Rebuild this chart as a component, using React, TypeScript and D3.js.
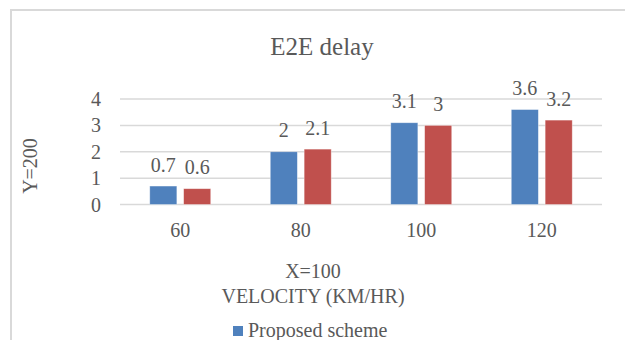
import React from "react";
import * as d3 from "d3";

const categories = ["60", "80", "100", "120"];
const seriesNames = ["Proposed scheme", "Existing scheme"];
const proposed = [0.7, 2, 3.1, 3.6];
const existing = [0.6, 2.1, 3, 3.2];
const yTicks = [0, 1, 2, 3, 4];
const colors = ["#4f81bd", "#c0504d"];

const W = 625;
const H = 340;
const FONT = "Liberation Serif, Times New Roman, serif";
const TXT = "#595959";
const ts = { fontFamily: FONT };

export default function App() {
  const y = d3.scaleLinear().domain([0, 4]).range([204.5, 99]);
  const x0 = d3
    .scaleBand<string>()
    .domain(categories)
    .range([120, 602])
    .paddingInner(0.494)
    .paddingOuter(0.247);
  const x1 = d3
    .scaleBand<string>()
    .domain(seriesNames)
    .range([0, x0.bandwidth()])
    .paddingInner(0.2)
    .paddingOuter(0);
  const values = [proposed, existing];

  return (
    <svg
      width={W}
      height={H}
      style={{ position: "absolute", left: 0, top: 0, background: "#fff", fontFamily: FONT }}
    >
      <rect x={11} y={10} width={720} height={420} fill="#fff" stroke="#d9d9d9" strokeWidth={2} />
      <text x={322} y={55} fontSize={25} fill={TXT} textAnchor="middle" style={ts}>
        E2E delay
      </text>
      {yTicks.map((t) => (
        <g key={t}>
          <line x1={120} x2={602} y1={y(t)} y2={y(t)} stroke="#d9d9d9" strokeWidth={1.5} />
          <text x={101} y={y(t) + 7} fontSize={20} fill={TXT} textAnchor="end" style={ts}>
            {t}
          </text>
        </g>
      ))}
      {categories.map((c, ci) => (
        <g key={c}>
          {seriesNames.map((s, si) => {
            const v = values[si][ci];
            const bx = (x0(c) as number) + (x1(s) as number);
            const bw = x1.bandwidth();
            return (
              <g key={s}>
                <rect
                  x={bx}
                  y={y(v)}
                  width={bw}
                  height={y(0) - y(v)}
                  fill={colors[si]}
                  stroke="#ffffff"
                  strokeOpacity={0.5}
                  strokeWidth={0.75}
                />
                <text
                  x={bx + bw / 2}
                  y={y(v) - 14.5}
                  fontSize={20}
                  fill={TXT}
                  textAnchor="middle"
                  style={ts}
                >
                  {String(v)}
                </text>
              </g>
            );
          })}
          <text
            x={(x0(c) as number) + x0.bandwidth() / 2}
            y={237}
            fontSize={20}
            fill={TXT}
            textAnchor="middle"
            style={ts}
          >
            {c}
          </text>
        </g>
      ))}
      <text x={313} y={278} fontSize={20} fill={TXT} textAnchor="middle" style={ts}>
        X=100
      </text>
      <text x={313} y={303} fontSize={20} fill={TXT} textAnchor="middle" style={ts}>
        VELOCITY (KM/HR)
      </text>
      <text
        transform="translate(37,166) rotate(-90)"
        fontSize={20}
        fill={TXT}
        textAnchor="middle"
        style={ts}
      >
        Y=200
      </text>
      <rect x={233} y={326} width={10} height={10} fill={colors[0]} />
      <text x={248} y={337} fontSize={20} fill={TXT} style={ts}>
        {seriesNames[0]}
      </text>
    </svg>
  );
}
